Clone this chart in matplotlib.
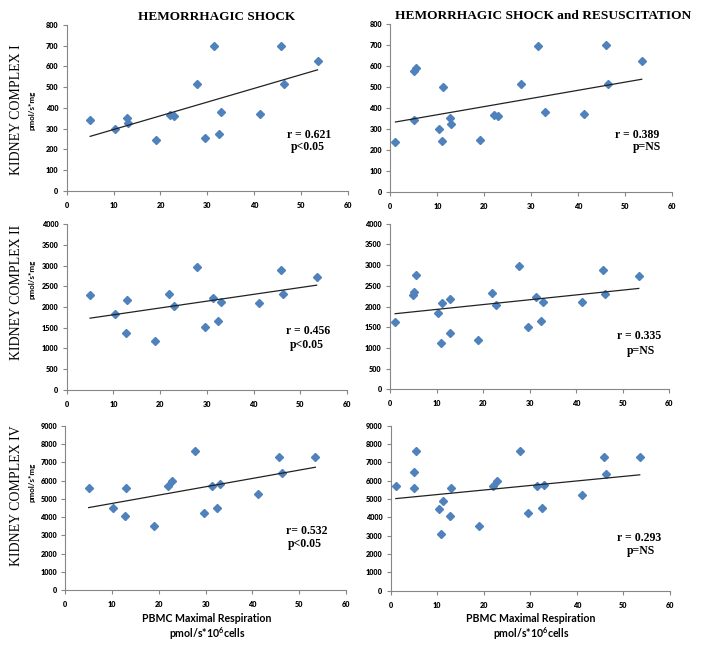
import numpy as np
import matplotlib
matplotlib.use('Agg')
import matplotlib.pyplot as plt

plt.rcParams['mathtext.default'] = 'regular'

# PBMC maximal respiration (x), shared by all panels
x_hs = [5.0, 10.3, 12.8, 13.0, 19.0, 22.0, 22.9, 27.8, 29.6, 31.4, 32.4, 33.0, 41.2, 45.8, 46.3, 53.5]
ci_hs = [343, 300, 350, 325, 245, 365, 360, 513, 256, 698, 275, 380, 372, 700, 514, 625]
cii_hs = [2282, 1839, 1363, 2177, 1185, 2323, 2032, 2968, 1516, 2226, 1653, 2113, 2105, 2887, 2306, 2726]
civ_hs = [5608, 4483, 4083, 5590, 3521, 5717, 5971, 7622, 4211, 5699, 4501, 5790, 5245, 7296, 6388, 7278]

# resuscitation group = same animals plus five extra
x_extra = [1.1, 5.1, 5.5, 10.9, 11.2]
ci_extra = [239, 577, 593, 244, 502]
cii_extra = [1634, 2358, 2768, 1111, 2093]
civ_extra = [5700, 6500, 7600, 3100, 4900]

x_hsr = x_hs + x_extra
ci_hsr = ci_hs + ci_extra
cii_hsr = cii_hs + cii_extra
civ_hsr = civ_hs + civ_extra
# these two complex I points are in the trend line but not drawn in the original
ci_hsr_hidden = [8, 10]

stats = [['r = 0.621', 'p<0.05'], ['r = 0.389', 'p=NS'],
         ['r = 0.456', 'p<0.05'], ['r = 0.335', 'p=NS'],
         ['r= 0.532', 'p<0.05'], ['r = 0.293', 'p=NS']]
row_labels = ['KIDNEY COMPLEX I', 'KIDNEY COMPLEX II', 'KIDNEY COMPLEX IV']
col_titles = ['HEMORRHAGIC SHOCK', 'HEMORRHAGIC SHOCK and RESUSCITATION']

W, H = 701, 651
fig = plt.figure(figsize=(W / 100, H / 100), dpi=100)

def px(x, y):
    return x / W, 1 - y / H

# axes boxes in pixels: left, top, right, bottom
boxes = [(66.7, 25, 348, 190.7), (390.3, 24.3, 672.3, 191.7),
         (66.7, 224.3, 347, 389.7), (390, 223.7, 669, 389.3),
         (65.3, 425.7, 345.7, 590.3), (390.7, 425.7, 670, 590.7)]
panels = [(x_hs, ci_hs), (x_hsr, ci_hsr), (x_hs, cii_hs), (x_hsr, cii_hsr),
          (x_hs, civ_hs), (x_hsr, civ_hsr)]
hidden = [[], ci_hsr_hidden, [], [], [], []]
ylims = [(800, 100), (800, 100), (4000, 500), (4000, 500), (9000, 1000), (9000, 1000)]
stat_pos = [((0.861, 0.336), (0.858, 0.264)), ((0.874, 0.339), (0.909, 0.269)),
            ((0.861, 0.355), (0.858, 0.270)), ((0.892, 0.324), (0.900, 0.231)),
            ((0.862, 0.360), (0.856, 0.281)), ((0.889, 0.318), (0.895, 0.240))]

blue = '#4F81BD'
gray = '#868686'

for i, (l, t, r, b) in enumerate(boxes):
    ax = fig.add_axes([l / W, 1 - b / H, (r - l) / W, (b - t) / H])
    xs, ys = np.array(panels[i][0]), np.array(panels[i][1], dtype=float)
    show = np.ones(len(xs), bool)
    show[hidden[i]] = False
    ax.plot(xs[show], ys[show], 'D', color=blue, ms=3.8, mec=blue)
    k, c = np.polyfit(xs, ys, 1)
    xx = np.array([xs[show].min(), xs[show].max()])
    ax.plot(xx, k * xx + c, color='#222222', lw=0.9)
    top, step = ylims[i]
    ax.set_xlim(0, 60)
    ax.set_ylim(0, top)
    ax.set_xticks(range(0, 61, 10))
    ax.set_yticks(np.arange(0, top + 1, step))
    for s in ['top', 'right']:
        ax.spines[s].set_visible(False)
    for s in ['left', 'bottom']:
        ax.spines[s].set_color(gray)
        ax.spines[s].set_linewidth(0.8)
    ax.tick_params(length=3, width=0.8, color=gray, labelsize=5.2, pad=3)
    for lab in ax.get_xticklabels() + ax.get_yticklabels():
        lab.set_fontfamily('Lato')
        lab.set_fontweight('heavy')
    ax.tick_params(axis='x', pad=5)
    (rx, ry), (qx, qy) = stat_pos[i]
    ax.text(rx, ry, stats[i][0], transform=ax.transAxes, ha='center', va='center',
            family='Liberation Serif', fontweight='bold', fontsize=8.5)
    ax.text(qx, qy, stats[i][1], transform=ax.transAxes, ha='center', va='center',
            family='Liberation Serif', fontweight='bold', fontsize=8.5)

# column titles
fig.text(*px(216.5, 17), col_titles[0], ha='center', va='center',
         family='Liberation Serif', fontweight='bold', fontsize=9.5)
fig.text(*px(543, 16), col_titles[1], ha='center', va='center',
         family='Liberation Serif', fontweight='bold', fontsize=9.6)

# row labels
for lab, yc, yu in zip(row_labels, [110, 292, 496], [110, 279, 482]):
    fig.text(*px(17, yc), lab, rotation=90, ha='center', va='center',
             family='Liberation Serif', fontsize=10)
    fig.text(*px(32, yu), 'pmol/s*mg', rotation=90, ha='center', va='center',
             family='Lato', fontweight='bold', fontsize=5.8)

# x labels
for xc in [207, 531]:
    fig.text(*px(xc, 618), 'PBMC Maximal Respiration', ha='center', va='center',
             family='Lato', fontweight='bold', fontsize=7.6)
    fig.text(*px(xc, 634), 'pmol/s*10$^{6}$cells', ha='center', va='center',
             family='Lato', fontweight='bold', fontsize=7.6)

fig.savefig('out.png', dpi=100)
